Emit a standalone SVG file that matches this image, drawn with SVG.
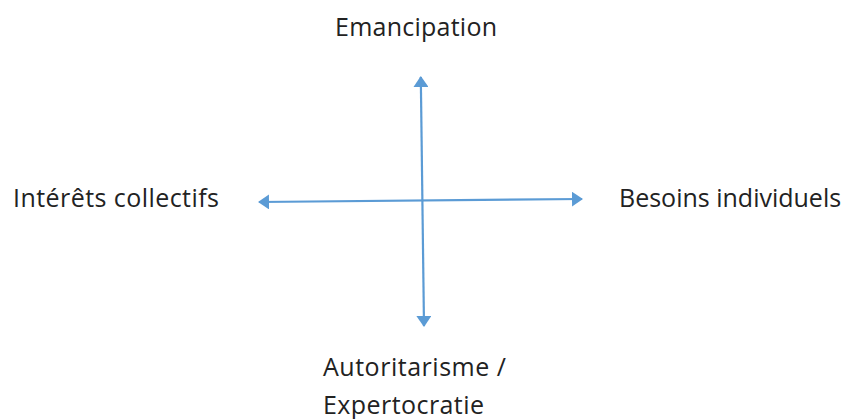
<svg xmlns="http://www.w3.org/2000/svg" width="848" height="419" viewBox="0 0 848 419">
<defs>
<style>
.lbl{font-family:"Open Sans","Liberation Sans",sans-serif;font-size:25px;fill:#222}
.ax{stroke:#5B9BD5;stroke-width:2.2;fill:none}
</style>
<marker id="ah" markerWidth="11" markerHeight="15" refX="10" refY="7.5" orient="auto-start-reverse" markerUnits="userSpaceOnUse" viewBox="0 0 11 15">
<path d="M0,0 L11,7.5 L0,15 z" fill="#5B9BD5"/>
</marker>
</defs>
<rect width="848" height="419" fill="#fff"/>
<g id="connectors">
<line class="ax" x1="420.8" y1="77" x2="424" y2="326" marker-start="url(#ah)" marker-end="url(#ah)"/>
<line class="ax" x1="259" y1="202" x2="582" y2="199" marker-start="url(#ah)" marker-end="url(#ah)"/>
</g>
<g id="n-emancipation"><text class="lbl" x="416" y="36" text-anchor="middle" textLength="162">Emancipation</text></g>
<g id="n-collectifs"><text class="lbl" x="13" y="207" textLength="206">Intérêts collectifs</text></g>
<g id="n-individuels"><text class="lbl" x="619" y="207">Besoins individuels</text></g>
<g id="n-autoritarisme"><text class="lbl" x="323" y="376" textLength="183">Autoritarisme /</text><text class="lbl" x="323" y="414" textLength="161">Expertocratie</text></g>
</svg>
